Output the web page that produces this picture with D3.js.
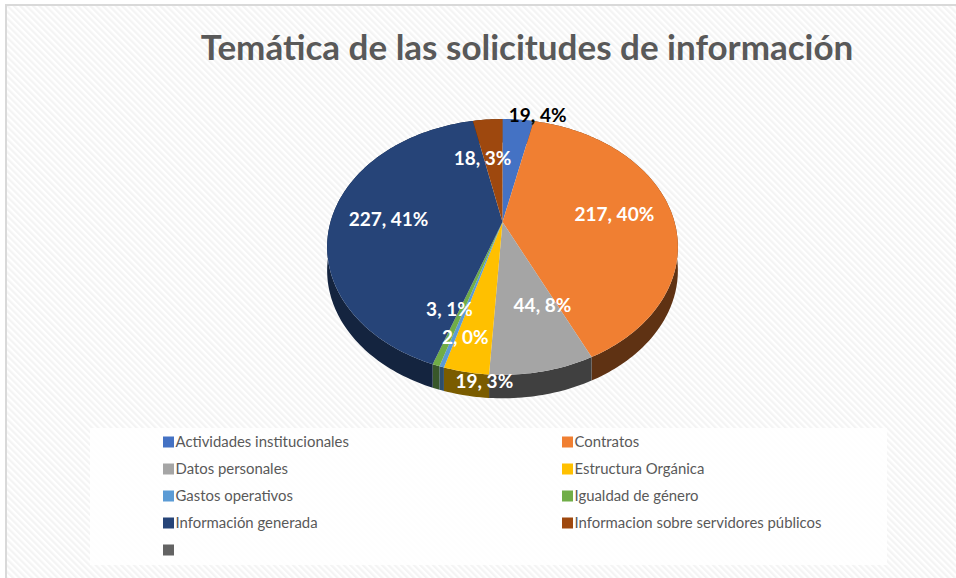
<!DOCTYPE html>
<html>
<head>
<meta charset="utf-8">
<script src="https://cdn.jsdelivr.net/npm/d3@7/dist/d3.min.js"></script>
<style>
html,body{margin:0;padding:0;background:#fff}
svg{display:block}
text{font-family:Lato,"Open Sans",sans-serif}
</style>
</head>
<body>
<div id="chart"></div>
<script>
const chartTitle = "Temática de las solicitudes de información";
const categories = ["Actividades institucionales","Contratos","Datos personales","Estructura Orgánica","Gastos operativos","Igualdad de género","Información generada","Informacion sobre servidores públicos",""];
const values = [19,217,44,19,2,3,227,18,0];
const percents = ["4%","40%","8%","3%","0%","1%","41%","3%",""];
const colors = ["#4472C4","#F07F32","#A5A5A5","#FFC000","#5B9BD5","#70AD47","#264478","#9E480E","#636363"];
const sideColors = ["#223962","#5F3213","#404040","#7A5C00","#2D4E6B","#38572A","#14243F","#4F2407","#333333"];
const labelColors = ["#000","#fff","#fff","#fff","#fff","#fff","#fff","#fff","#fff"];

// layout
const W = 956, H = 578;
const cx = 502.5, cy = 222, ax = 172, ay = 123, persp = 0.195, depth = 23.5;
// label placement: radial fraction and angular nudge from the slice's middle (degrees)
const labelRadius = [1.076,0.662,0.63,1.04,0.811,0.678,0.666,0.593];
const labelNudge = [7,0.7,-8.2,-5.2,-3.7,5.2,-1.7,-6.7];

const svg = d3.select("#chart").append("svg").attr("width",W).attr("height",H);
const defs = svg.append("defs");
const pat = defs.append("pattern").attr("id","stripes").attr("patternUnits","userSpaceOnUse")
  .attr("width",4.5).attr("height",4.5).attr("patternTransform","rotate(-45)");
pat.append("rect").attr("width",4.5).attr("height",4.5).attr("fill","#ffffff");
pat.append("rect").attr("width",2.25).attr("height",4.5).attr("fill","#f4f4f4");

svg.append("rect").attr("x",6).attr("y",5).attr("width",W+10).attr("height",H+10)
  .attr("fill","url(#stripes)").attr("stroke","#d9d9d9").attr("stroke-width",2);

svg.append("text").attr("x",527).attr("y",60).attr("text-anchor","middle")
  .attr("font-size",35).attr("font-weight",700).attr("fill","#595959").text(chartTitle);

// Perspective projection of the unit disk on the page
function project(t, r){
  const u = r*Math.sin(t), v = -r*Math.cos(t), w = 1 - persp*v;
  return [cx + ax*u/w, cy + ay*v/w];
}
const pieGen = d3.pie().value(d=>d).sort(null);
const arcs = pieGen(values);
const color = d3.scaleOrdinal().domain(categories).range(colors);
const sideColor = d3.scaleOrdinal().domain(categories).range(sideColors);
const line = d3.line();

function rim(a){
  const n = Math.max(2, Math.ceil((a.endAngle-a.startAngle)/0.02));
  return d3.range(n+1).map(i=>project(a.startAngle+(a.endAngle-a.startAngle)*i/n,1));
}
const visible = arcs.filter(a=>a.value>0);

// side wall
svg.append("g").selectAll("path").data(visible).join("path")
  .attr("d",a=>{
    const top = rim(a);
    const bottom = top.map(p=>[p[0],p[1]+depth]).reverse();
    return line(top.concat(bottom))+"Z";
  })
  .attr("fill",(a,i)=>sideColor(categories[a.index]));

// top face
svg.append("g").selectAll("path").data(visible).join("path")
  .attr("d",a=>line([[cx,cy]].concat(rim(a)))+"Z")
  .attr("fill",a=>color(categories[a.index]));

// data labels
svg.append("g").selectAll("text").data(visible).join("text")
  .each(function(a){
    const mid = (a.startAngle+a.endAngle)/2 + labelNudge[a.index]*Math.PI/180;
    const p = project(mid,labelRadius[a.index]);
    d3.select(this).attr("x",p[0]).attr("y",p[1]);
  })
  .attr("dy","0.35em").attr("text-anchor","middle")
  .attr("font-size",19).attr("font-weight",700)
  .attr("fill",a=>labelColors[a.index])
  .text(a=>a.value+", "+percents[a.index]);

// legend
svg.append("rect").attr("x",90).attr("y",428).attr("width",797).attr("height",137)
  .attr("fill","#fff").attr("fill-opacity",0.85);
const colX = d3.scaleOrdinal().domain([0,1]).range([163,562]);
const rowY = d3.scaleLinear().domain([0,4]).range([442,550]);
const leg = svg.append("g").selectAll("g").data(categories).join("g")
  .attr("transform",(d,i)=>`translate(${colX(i%2)},${rowY(Math.floor(i/2))})`);
leg.append("rect").attr("x",0).attr("y",-5.5).attr("width",11).attr("height",11)
  .attr("fill",d=>color(d));
leg.append("text").attr("x",12.5).attr("dy","0.35em").attr("font-size",14.9)
  .attr("fill","#595959").text(d=>d);
</script>
</body>
</html>
